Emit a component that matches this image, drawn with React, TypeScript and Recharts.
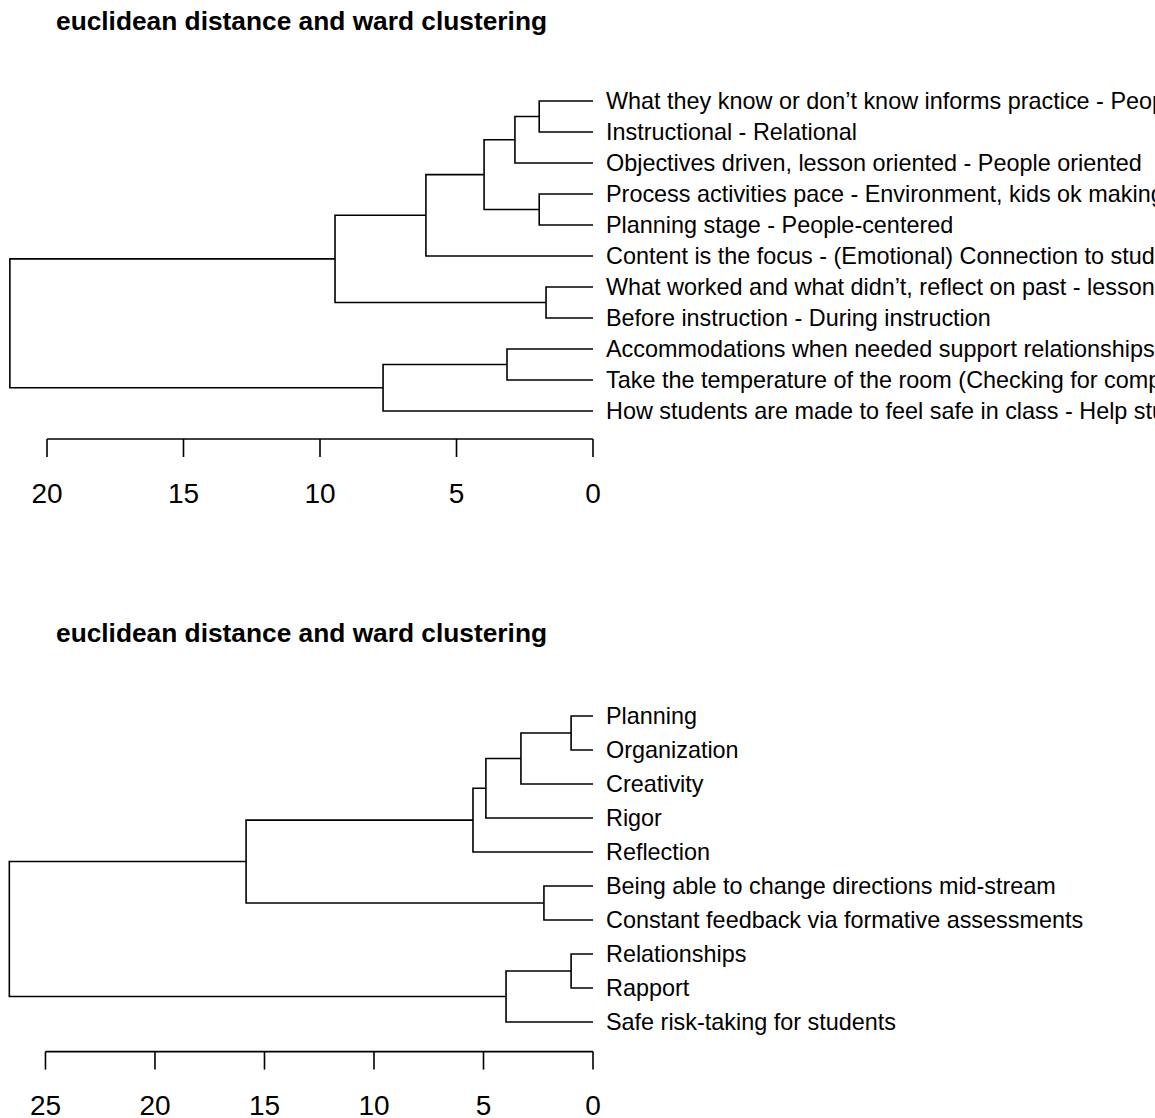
import React from "react";
import { ComposedChart, Line, XAxis, YAxis, ReferenceLine } from "recharts";

// ---------- data ----------
const titleTop = "euclidean distance and ward clustering";
const titleBottom = "euclidean distance and ward clustering";

const leavesTop = [
  "What they know or don\u2019t know informs practice - People first",
  "Instructional - Relational",
  "Objectives driven, lesson oriented - People oriented",
  "Process activities pace - Environment, kids ok making mistakes",
  "Planning stage - People-centered",
  "Content is the focus - (Emotional) Connection to students",
  "What worked and what didn\u2019t, reflect on past - lessons learned",
  "Before instruction - During instruction",
  "Accommodations when needed support relationships",
  "Take the temperature of the room (Checking for comprehension)",
  "How students are made to feel safe in class - Help students",
];
// R-style merge table: negative = leaf (1-based, display order), positive = earlier merge step
const mergeLeftTop = [-7, -1, -4, 2, -9, 4, 6, 7, 5, 8];
const mergeRightTop = [-8, -2, -5, -3, -10, 3, -6, 1, -11, 9];
const mergeHeightTop = [1.72, 1.97, 1.97, 2.86, 3.15, 3.99, 6.12, 9.45, 7.69, 21.36];
const distTicksTop = [0, 5, 10, 15, 20];

const leavesBottom = [
  "Planning",
  "Organization",
  "Creativity",
  "Rigor",
  "Reflection",
  "Being able to change directions mid-stream",
  "Constant feedback via formative assessments",
  "Relationships",
  "Rapport",
  "Safe risk-taking for students",
];
const mergeLeftBottom = [-1, -8, -6, 1, 2, 4, 6, 7, 8];
const mergeRightBottom = [-2, -9, -7, -3, -10, -4, -5, 3, 5];
const mergeHeightBottom = [1.0, 1.0, 2.24, 3.29, 3.97, 4.89, 5.48, 15.84, 26.65];
const distTicksBottom = [0, 5, 10, 15, 20, 25];

// ---------- helpers ----------
type Pt = { d: number; y: number };

function buildSegments(left: number[], right: number[], heights: number[]): Pt[][] {
  const nodes: Pt[] = [];
  const get = (ref: number): Pt => (ref < 0 ? { d: 0, y: -ref - 1 } : nodes[ref - 1]);
  const segs: Pt[][] = [];
  for (let i = 0; i < heights.length; i++) {
    const a = get(left[i]);
    const b = get(right[i]);
    const h = heights[i];
    segs.push([
      { d: a.d, y: a.y },
      { d: h, y: a.y },
      { d: h, y: b.y },
      { d: b.d, y: b.y },
    ]);
    nodes.push({ d: h, y: (a.y + b.y) / 2 });
  }
  return segs;
}

const FONT = "'Liberation Sans', Arial, Helvetica, sans-serif";

type DendroProps = {
  labels: string[];
  left: number[];
  right: number[];
  heights: number[];
  ticks: number[];
  xMax: number;
  yMin: number;
  yMax: number;
  marginTop: number;
  xAxisHeight: number;
  top: number;
};

function Dendrogram(p: DendroProps) {
  const segs = buildSegments(p.left, p.right, p.heights);
  const leafTicks = p.labels.map((_, i) => i);
  const axisEnd = p.ticks[p.ticks.length - 1];
  return (
    <div style={{ position: "absolute", left: 0, top: p.top }}>
      <ComposedChart
        width={1155}
        height={559}
        margin={{ top: p.marginTop, right: 0, bottom: 0, left: 6.05 }}
      >
        <XAxis
          type="number"
          dataKey="d"
          domain={[0, p.xMax]}
          reversed
          allowDataOverflow
          ticks={p.ticks}
          interval={0}
          height={p.xAxisHeight}
          axisLine={false}
          tickLine={{ stroke: "#000", strokeWidth: 1.6 }}
          tickSize={18}
          tickMargin={26}
          tick={{ fill: "#000", fontSize: 28, fontFamily: FONT }}
        />
        <YAxis
          type="number"
          dataKey="y"
          orientation="right"
          domain={[p.yMin, p.yMax]}
          reversed
          allowDataOverflow
          ticks={leafTicks}
          interval={0}
          width={562}
          axisLine={false}
          tickLine={false}
          tickSize={0}
          tickMargin={13}
          tick={(t: any) => (
            <text
              x={t.x}
              y={t.y}
              dy="0.36em"
              textAnchor="start"
              fill="#000"
              fontSize={23.4}
              fontFamily={FONT}
            >
              {p.labels[t.payload.value]}
            </text>
          )}
        />
        <ReferenceLine
          segment={[
            { x: 0, y: p.yMax },
            { x: axisEnd, y: p.yMax },
          ]}
          stroke="#000"
          strokeWidth={1.6}
          ifOverflow="visible"
        />
        {segs.map((s, i) => (
          <Line
            key={i}
            data={s}
            dataKey="y"
            type="linear"
            stroke="#000"
            strokeWidth={1.6}
            dot={false}
            activeDot={false}
            isAnimationActive={false}
            legendType="none"
          />
        ))}
      </ComposedChart>
    </div>
  );
}

export default function App() {
  return (
    <div
      style={{
        position: "absolute",
        left: 0,
        top: 0,
        width: 1155,
        height: 1118,
        background: "#fff",
        overflow: "hidden",
      }}
    >
      <Dendrogram
        labels={leavesTop}
        left={mergeLeftTop}
        right={mergeRightTop}
        heights={mergeHeightTop}
        ticks={distTicksTop}
        xMax={21.5}
        yMin={-0.4}
        yMax={10.903}
        marginTop={88.6}
        xAxisHeight={120}
        top={0}
      />
      <Dendrogram
        labels={leavesBottom}
        left={mergeLeftBottom}
        right={mergeRightBottom}
        heights={mergeHeightBottom}
        ticks={distTicksBottom}
        xMax={26.8}
        yMin={-0.4}
        yMax={9.87}
        marginTop={143.4}
        xAxisHeight={66.4}
        top={559}
      />
      <svg
        width={1155}
        height={1118}
        style={{ position: "absolute", left: 0, top: 0, pointerEvents: "none" }}
      >
        <text x={56} y={30} fontSize={26.3} fontWeight="bold" fontFamily={FONT} fill="#000">
          {titleTop}
        </text>
        <text x={56} y={642} fontSize={26.3} fontWeight="bold" fontFamily={FONT} fill="#000">
          {titleBottom}
        </text>
      </svg>
    </div>
  );
}
